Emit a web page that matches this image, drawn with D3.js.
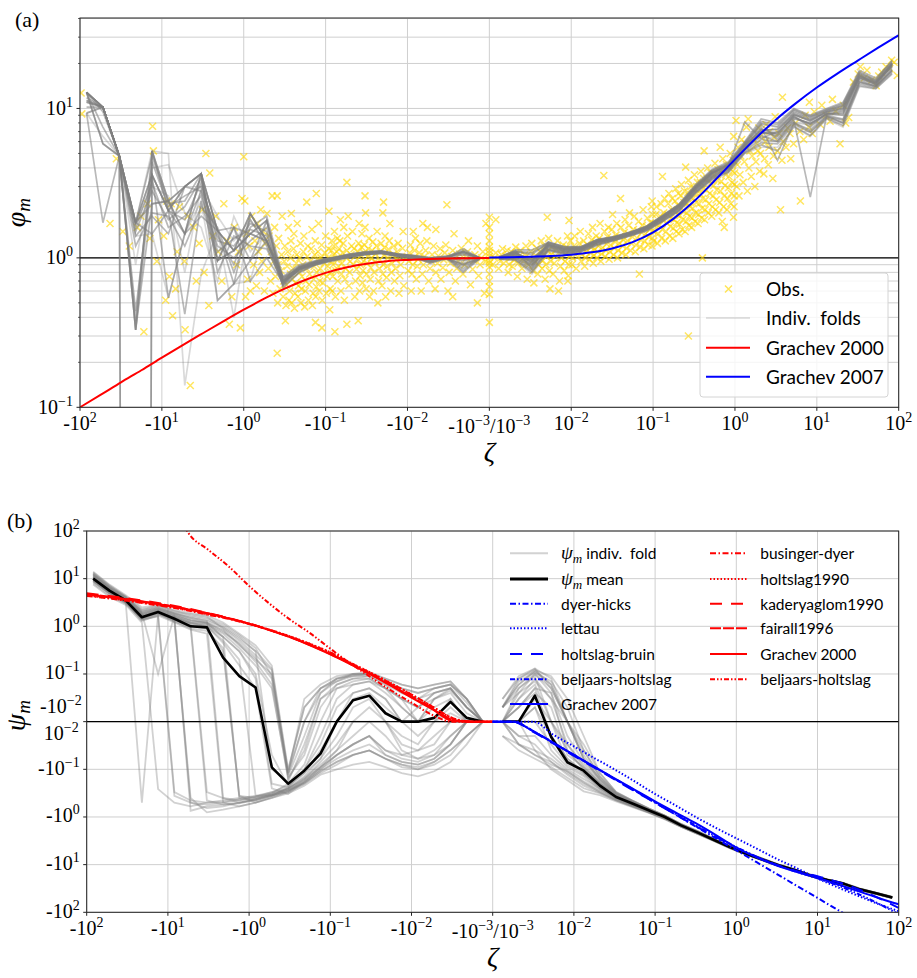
<!DOCTYPE html>
<html><head><meta charset="utf-8">
<script src="https://cdn.jsdelivr.net/npm/d3@7"></script>
<style>
body{margin:0;background:#fff;}
.tk{font-family:"Liberation Serif","DejaVu Serif",serif;font-size:20px;fill:#000;}
.lg{font-family:Lato,"DejaVu Sans",sans-serif;fill:#000;}
.mi{font-family:"Liberation Serif","DejaVu Serif",serif;font-style:italic;}
</style></head><body>
<svg id="chart" width="917" height="978" xmlns="http://www.w3.org/2000/svg"></svg>
<script>
// ---------------- DATA ----------------
const binsNeg = [-83.2,-52.5,-33.1,-20.9,-13.2,-8.32,-5.25,-3.31,-2.09,-1.32,-0.832,-0.525,-0.331,-0.209,-0.132,-0.0832,-0.0525,-0.0331,-0.0209,-0.0132,-0.00832,-0.00525,-0.00331,-0.00209,-0.00132];
const binsPos = [0.00132,0.00209,0.00331,0.00525,0.00832,0.0132,0.0209,0.0331,0.0525,0.0832,0.132,0.209,0.331,0.525,0.832,1.32,2.09,3.31,5.25,8.32,13.2,20.9,33.1,52.5,83.2];

// panel (a): phi_m of individual folds
const foldsNegA = [
 [12.8,10.2,4.8,0.33,5.2,2.4,3.0,3.66,1.52,1.12,1.98,1.3,0.72,0.86,0.93,0.98,1.04,1.08,1.1,1.05,1.02,0.98,1.0,1.12,1.0],
 [9.3,10.2,4.8,0,5.2,2.07,1.45,3.66,0.96,1.6,1.45,1.78,0.66,0.84,0.9,0.97,1.02,1.06,1.08,1.04,1.0,0.95,1.0,0.82,0.99],
 [12.8,5.8,4.8,1.72,3.6,0.54,1.45,3.66,0.52,0.67,1.98,1.3,0.7,0.88,0.95,1.0,1.05,1.1,1.12,1.06,1.03,1.0,1.02,1.08,1.0],
 [11.3,10.2,4.8,0.33,2.3,2.4,3.0,2.8,1.52,0.67,0.96,1.78,0.63,0.8,0.9,0.95,1.0,1.05,1.07,1.02,0.99,0.93,0.98,0.88,0.98],
 [9.3,1.72,4.8,1.72,1.45,2.07,0.42,2.4,0.96,1.12,1.45,1.3,0.75,0.9,0.96,1.0,1.06,1.09,1.1,1.06,1.04,1.0,1.03,1.1,1.01],
 [12.8,10.2,4.8,0,5.2,2.4,1.45,1.9,1.52,1.6,0.7,1.0,0.68,0.86,0.92,0.99,1.03,1.07,1.1,1.05,1.01,0.97,1.0,0.85,0.99],
 [11,10.2,4.8,1.4,1.9,1.45,3.0,3.66,1.52,1.12,1.98,1.3,0.74,0.85,0.93,0.98,1.04,1.08,1.09,1.05,1.02,0.92,1.01,1.15,1.0],
 [12.8,5.8,4.8,0.44,3.6,2.07,3.0,3.66,0.96,1.12,1.45,1.78,0.7,0.82,0.91,0.97,1.02,1.06,1.08,1.03,1.0,0.96,0.99,0.8,0.98],
 [9.3,10.2,4.8,1.72,5.2,5.0,0.14,0.78,1.52,0.4,1.98,1.3,0.72,0.87,0.94,0.99,1.05,1.09,1.11,1.07,1.03,0.99,1.02,1.05,1.0],
 [12.8,10.2,4.8,1.72,2.3,2.4,1.45,2.8,0.96,1.6,0.96,1.3,0.65,0.8,0.9,0.96,1.01,1.05,1.07,1.03,1.0,0.94,0.99,0.9,0.99],
 [11.3,10.2,4.8,0.33,3.6,2.07,3.0,3.66,1.52,1.12,1.45,1.3,0.68,0.84,0.92,0.98,1.03,1.07,1.09,1.04,1.01,0.97,1.0,1.1,1.0],
 [12.8,10.2,4.8,1.4,1.45,0.54,1.45,2.4,0.52,0.67,0.7,1.78,0.7,0.86,0.94,1.0,1.04,1.08,1.1,1.05,1.02,0.98,1.01,0.95,1.0],
 [11,10.2,4.8,1.72,3.6,2.07,1.8,3.2,1.3,1.2,1.7,1.5,0.68,0.85,0.93,0.98,1.03,1.07,1.09,1.04,1.01,0.97,1.0,1.05,1.0],
 [12.8,9.5,4.8,1.5,2.8,1.8,2.2,3.4,1.1,1.35,1.55,1.4,0.7,0.83,0.92,0.97,1.02,1.06,1.08,1.03,1.0,0.96,0.99,0.92,0.99],
 [10.2,10.2,4.8,0.38,4.4,2.2,2.6,3.0,1.4,0.9,1.8,1.2,0.66,0.86,0.94,0.99,1.04,1.08,1.1,1.05,1.02,0.98,1.01,1.08,1.0],
 [12.8,7.5,4.8,1.6,3.2,1.6,1.9,2.6,1.2,1.0,1.3,1.6,0.72,0.87,0.93,0.98,1.03,1.07,1.09,1.05,1.02,0.99,1.0,0.97,1.0],
 [11.8,10.2,4.8,1.72,4.8,2.3,2.4,3.66,0.8,1.4,1.2,1.15,0.69,0.84,0.91,0.97,1.02,1.06,1.08,1.04,1.01,0.95,0.99,0.9,0.99],
 [12.8,10.2,4.8,1.2,2.0,1.9,1.2,2.2,1.6,0.8,1.6,1.9,0.74,0.88,0.95,1.0,1.05,1.09,1.11,1.06,1.03,1.0,1.02,1.1,1.0],
 [9.3,6.5,4.8,0.9,4.0,4.2,2.0,1.6,0.7,1.9,1.1,1.45,0.7,0.85,0.93,0.98,1.03,1.07,1.09,1.04,1.01,0.97,1.0,1.0,1.0],
 [12.8,10.2,4.8,1.72,3.0,2.6,0.8,3.0,1.9,1.3,1.8,1.25,0.66,0.82,0.91,0.97,1.02,1.06,1.08,1.03,1.0,0.96,0.99,0.96,0.99]
];
const foldsPosA = [
 [1.0,1.05,0.95,1.2,1.12,1.15,1.28,1.35,1.45,1.58,1.85,2.2,2.9,3.6,4.0,5.5,7.0,6.5,8.7,7.9,9.2,9.7,16,14.6,20],
 [1.0,1.12,0.85,1.28,1.18,1.18,1.32,1.38,1.48,1.62,1.92,2.28,3.05,3.85,4.3,5.9,8.2,7.8,9.8,8.8,9.8,10.8,17.5,15.5,21],
 [0.98,0.97,0.8,1.12,1.07,1.1,1.22,1.31,1.41,1.52,1.76,2.07,2.72,3.35,3.75,5.05,5.7,5.2,7.6,6.6,8.6,7.7,14.2,13.6,17.2],
 [1.0,1.08,0.92,1.22,1.14,1.16,1.3,1.36,1.46,1.6,1.88,2.24,2.95,3.7,4.15,8.1,6.3,7.0,9.2,8.2,9.5,10.2,16.5,15,19],
 [1.02,1.1,1.08,1.25,1.16,1.17,1.31,1.37,1.47,1.61,1.9,2.25,3.0,3.75,4.2,5.7,7.5,4.5,8.0,7.2,8.9,8.0,15,14,18],
 [0.99,1.0,0.88,1.15,1.09,1.12,1.25,1.33,1.43,1.55,1.8,2.12,2.8,3.45,3.9,5.3,6.6,6.0,8.3,2.55,9.0,8.5,15.5,14.2,18.5],
 [1.01,1.13,1.13,1.27,1.19,1.19,1.33,1.39,1.49,1.63,1.93,2.3,3.1,3.9,4.4,6.0,8.5,8.0,10,9.0,10,11,18,16,20.5],
 [1.0,1.03,0.9,1.18,1.1,1.14,1.27,1.34,1.44,1.57,1.83,2.16,2.85,3.5,3.95,5.4,6.9,6.8,8.9,7.5,9.3,9.0,16.2,14.8,19.5],
 [0.98,0.96,0.78,1.1,1.05,1.1,1.2,1.3,1.4,1.5,1.75,2.05,2.7,3.3,3.7,5.0,5.5,5.5,7.5,6.5,8.5,7.5,14,13.5,17],
 [1.0,1.07,0.97,1.21,1.13,1.15,1.29,1.35,1.45,1.59,1.86,2.21,2.92,3.65,4.1,5.6,7.2,7.2,9.4,8.5,9.6,10.5,17,15.2,20],
 [1.01,1.09,0.93,1.23,1.15,1.16,1.3,1.36,1.46,1.6,1.87,2.22,2.97,3.72,4.2,5.75,7.8,6.2,8.5,8.0,9.1,9.4,16.8,14.4,19.8],
 [0.99,1.02,0.87,1.17,1.1,1.13,1.26,1.33,1.43,1.56,1.82,2.14,2.82,3.5,3.9,5.3,6.4,6.4,8.1,7.7,8.9,8.2,15.2,14.0,18.2],
 [1.0,1.06,0.98,1.24,1.15,1.17,1.3,1.37,1.47,1.6,1.89,2.23,2.96,3.72,4.18,5.6,7.3,6.7,9.0,8.3,9.4,10.0,16.3,14.9,19.6],
 [0.99,1.04,0.9,1.19,1.11,1.14,1.27,1.34,1.44,1.57,1.84,2.17,2.87,3.55,3.98,5.45,6.8,6.9,8.8,7.8,9.2,9.2,16.0,14.6,19.2],
 [1.01,1.1,1.05,1.26,1.17,1.18,1.32,1.38,1.48,1.62,1.91,2.27,3.02,3.8,4.25,5.8,7.9,7.5,9.6,8.7,9.7,10.4,17.2,15.3,20.2],
 [1.0,1.0,0.84,1.14,1.08,1.12,1.24,1.32,1.42,1.54,1.79,2.1,2.77,3.42,3.85,5.2,6.2,6.0,8.0,7.0,8.8,8.4,15.0,14.1,18.0],
 [1.0,1.08,0.96,1.22,1.14,1.16,1.29,1.36,1.46,1.59,1.87,2.22,2.94,3.68,4.12,5.65,7.1,7.3,9.1,8.4,9.5,9.9,16.6,15.0,19.9],
 [0.98,0.98,0.82,1.13,1.06,1.11,1.23,1.31,1.41,1.53,1.77,2.08,2.74,3.38,3.8,5.1,5.9,5.8,7.8,6.9,8.7,8.0,14.6,13.8,17.6],
 [1.01,1.11,1.1,1.27,1.18,1.18,1.32,1.38,1.49,1.62,1.92,2.28,3.05,3.85,4.3,5.95,8.0,7.6,9.9,8.9,9.9,10.6,17.6,15.6,20.8],
 [1.0,1.05,0.94,1.2,1.12,1.15,1.28,1.35,1.45,1.58,1.85,2.19,2.9,3.62,4.05,5.5,6.9,6.6,8.6,7.9,9.1,9.6,15.8,14.5,19.4]
];

// panel (a): observations [zeta, phi_m]
const obs = [
 [-97,12.7],[-95,9.2],[-36,4.6],[-43,1.7],[-16.6,0.32],[-4.5,0.14],[-5.2,0.33],[-7.4,0.41],[-9.0,0.52],[-2.67,0.48],[-1.5,0.36],[-1.1,0.34],[-13,7.6],[-2.6,3.7],[-2.9,5.0],[-12.7,5.2],[-1.0,4.75],[-8.7,2.4],[-7.7,2.3],[-6.1,2.2],[-1.75,2.3],[-20,1.6],[-25,1.2],[-11,1.8],[-9.5,1.4],[-6.5,1.1],[-5.3,0.95],[-4.1,1.6],[-3.5,1.25],[-3.05,0.8],[-2.2,1.9],[-2.05,1.1],[-1.85,0.7],[-1.6,1.3],[-1.3,1.6],[-1.22,0.9],[-1.05,2.5],[-15,2.3],[-18,1.9],[-30,1.5],[-11.5,0.95],[-8.1,0.75],[-4.8,1.9],[-3.2,2.1],[-2.4,1.4],[-1.4,0.55],[-1.16,1.1],[-3.8,0.7],[-6.8,0.62],[-14,1.35],
 [-0.95,0.55],[-0.93,1.45],[-0.97,2.4],[-0.9,0.72],[-0.86,1.2],[-0.83,0.6],[-0.8,1.9],[-0.76,0.9],[-0.73,1.3],[-0.7,0.65],[-0.68,1.7],[-0.66,1.1],[-0.64,0.8],[-0.62,2.1],[-0.6,0.95],[-0.58,1.5],[-0.56,0.6],[-0.54,1.25],[-0.52,1.98],[-0.5,0.85],[-0.49,1.4],[-0.47,0.7],[-0.46,1.1],[-0.45,2.6],[-0.44,0.58],[-0.43,0.95],[-0.42,1.6],[-0.41,0.75],[-0.4,1.2],[-0.39,2.6],[-0.385,0.5],[-0.38,0.9],[-0.375,1.35],[-0.39,0.23],[-0.36,0.62],[-0.35,0.82],[-0.345,1.05],[-0.34,1.9],[-0.33,0.55],[-0.325,0.7],[-0.32,0.95],[-0.315,1.2],[-0.31,0.38],[-0.305,0.48],[-0.3,0.66],[-0.295,0.88],[-0.29,1.1],[-0.285,1.6],[-0.28,0.52],[-0.275,0.6],[-0.27,0.78],[-0.268,1.0],[-0.265,1.3],[-0.262,1.98],[-0.26,0.5],[-0.255,0.72],[-0.25,0.85],[-0.247,1.15],[-0.244,1.45],[-0.24,0.46],[-0.236,0.58],[-0.232,0.68],[-0.228,0.92],[-0.225,1.05],[-0.222,1.7],[-0.218,0.55],[-0.214,0.65],[-0.21,0.8],[-0.206,1.0],[-0.203,1.25],[-0.2,0.5],[-0.197,0.62],[-0.194,0.75],[-0.19,0.9],[-0.187,1.1],[-0.184,1.4],[-0.17,2.36],[-0.18,0.47],[-0.177,0.6],[-0.174,0.7],[-0.171,0.85],[-0.168,1.02],[-0.165,1.2],[-0.162,0.52],[-0.159,0.66],[-0.156,0.78],[-0.153,0.95],[-0.15,1.15],[-0.147,1.55],[-0.145,0.48],[-0.142,0.58],[-0.14,0.72],[-0.138,0.88],[-0.136,1.05],[-0.134,1.3],[-0.132,0.55],[-0.13,0.64],[-0.128,0.8],[-0.126,0.97],[-0.124,1.1],[-0.122,1.7],[-0.133,0.37],[-0.12,0.6],[-0.118,0.7],[-0.116,0.85],[-0.114,1.0],[-0.112,1.22],[-0.13,2.7],[-0.11,0.52],[-0.108,0.68],[-0.106,0.78],[-0.104,0.92],[-0.102,1.08],[-0.1,1.4],[-0.111,0.34],[-0.098,0.58],[-0.096,0.75],[-0.094,0.88],[-0.093,1.0],[-0.092,1.15],[-0.091,2.05],
 [-0.089,0.45],[-0.088,0.62],[-0.087,0.8],[-0.086,0.95],[-0.085,1.12],[-0.084,1.3],[-0.083,0.6],[-0.082,0.75],[-0.081,0.9],[-0.08,1.05],[-0.079,1.2],[-0.078,1.5],[-0.077,0.32],[-0.076,0.55],[-0.075,0.82],[-0.074,0.98],[-0.073,1.1],[-0.072,1.35],[-0.071,0.7],[-0.07,0.88],[-0.069,1.0],[-0.068,1.15],[-0.067,1.3],[-0.066,1.8],[-0.065,0.6],[-0.064,0.78],[-0.063,0.92],[-0.062,1.08],[-0.061,1.25],[-0.06,1.6],[-0.059,0.52],[-0.058,0.72],[-0.057,0.85],[-0.056,1.0],[-0.055,1.12],[-0.054,1.4],[-0.053,1.9],[-0.052,0.65],[-0.051,0.8],[-0.05,0.95],[-0.049,1.05],[-0.048,1.2],[-0.047,1.5],[-0.055,0.36],[-0.055,3.2],[-0.046,0.9],[-0.045,1.15],[-0.044,0.55],[-0.043,0.7],[-0.042,0.84],[-0.041,0.98],[-0.04,1.1],[-0.0395,1.25],[-0.039,1.7],[-0.0385,0.6],[-0.038,0.76],[-0.0375,0.9],[-0.037,1.04],[-0.0365,1.18],[-0.036,1.45],[-0.04,0.38],[-0.0355,0.68],[-0.035,0.82],[-0.0345,0.95],[-0.034,1.08],[-0.0335,1.22],[-0.033,1.6],[-0.0325,2.0],[-0.032,0.62],[-0.0315,0.78],[-0.031,0.92],[-0.0305,1.02],[-0.03,1.15],[-0.0295,1.35],[-0.033,2.6],[-0.029,0.55],[-0.0285,0.72],[-0.028,0.86],[-0.0275,1.0],[-0.027,1.12],[-0.0265,1.28],[-0.026,0.6],[-0.0255,0.8],[-0.025,0.94],[-0.0245,1.06],[-0.024,1.2],[-0.0235,1.5],[-0.023,0.5],[-0.0225,0.7],[-0.022,0.85],[-0.0218,0.97],[-0.0215,1.1],[-0.021,1.25],[-0.0205,0.65],[-0.02,0.78],[-0.0197,0.9],[-0.0194,1.04],[-0.0191,1.17],[-0.0188,1.4],[-0.0196,2.36],[-0.02,2.0],[-0.0185,0.55],[-0.018,0.74],[-0.0177,0.88],[-0.0174,1.0],[-0.017,1.14],[-0.0167,1.3],[-0.0164,1.7],[-0.016,0.6],[-0.0157,0.8],[-0.0154,0.92],[-0.015,1.05],[-0.0147,1.2],[-0.0144,0.7],[-0.014,0.85],[-0.0137,0.98],[-0.0134,1.1],[-0.013,1.25],[-0.0127,0.58],[-0.0124,0.76],[-0.0121,0.9],[-0.0118,1.02],[-0.0115,1.16],[-0.0113,1.5],[-0.0111,0.65],
 [-0.0098,0.82],[-0.0096,0.95],[-0.0094,1.08],[-0.0092,1.22],[-0.009,0.6],[-0.0088,0.78],[-0.0086,0.9],[-0.0084,1.0],[-0.0082,1.12],[-0.008,1.35],[-0.0078,0.72],[-0.0076,0.88],[-0.0074,0.98],[-0.0072,1.08],[-0.007,1.25],[-0.0068,0.6],[-0.0066,0.78],[-0.0064,0.9],[-0.0062,1.02],[-0.006,1.12],[-0.0058,1.3],[-0.0057,1.6],[-0.0055,0.7],[-0.0053,0.85],[-0.0051,0.95],[-0.005,1.05],[-0.0048,1.2],[-0.0046,0.62],[-0.0045,0.8],[-0.0043,0.92],[-0.0042,1.03],[-0.004,1.15],[-0.0039,0.72],[-0.0037,0.86],[-0.0036,0.97],[-0.0035,1.08],[-0.0034,1.22],[-0.0033,2.27],[-0.0032,0.6],[-0.0031,0.8],[-0.003,0.92],[-0.0029,1.02],[-0.0028,1.12],[-0.0027,1.45],[-0.0026,0.7],[-0.0025,0.85],[-0.0024,0.95],[-0.0023,1.06],[-0.0022,1.16],[-0.0021,0.78],[-0.002,0.9],[-0.0019,1.0],[-0.00185,1.1],[-0.0018,1.3],[-0.0017,0.66],[-0.0016,0.84],[-0.00155,0.96],[-0.0015,1.05],[-0.0014,1.2],[-0.00135,0.76],[-0.0013,0.9],[-0.00125,1.0],[-0.0012,1.1],[-0.00115,0.58],[-0.0011,0.95],[-0.0011,1.7],[-0.0014,0.5],[-0.0028,0.55],[-0.0045,1.55],[-0.0065,1.7],[-0.0085,1.5],
 [0.001,1.87],[0.001,1.6],[0.001,1.45],[0.001,1.3],[0.001,1.18],[0.001,1.07],[0.001,0.96],[0.001,0.87],[0.001,0.78],[0.001,0.7],[0.001,0.64],[0.001,0.57],[0.001,0.37],[0.001,1.02],[0.001,0.92],[0.001,1.12],
 [0.0011,0.9],[0.00115,1.0],[0.0012,1.08],[0.0012,1.8],[0.0013,0.85],[0.00135,0.95],[0.0014,1.05],[0.00145,1.15],[0.0015,0.92],[0.0016,1.02],[0.00165,1.12],[0.0017,0.8],[0.00175,0.9],[0.0018,1.0],[0.00185,1.1],[0.0019,0.88],[0.002,0.97],[0.00205,1.06],[0.0021,1.18],[0.0022,0.75],[0.00225,0.92],[0.0023,1.02],[0.0024,1.12],[0.0025,0.85],[0.0026,0.95],[0.0027,1.05],[0.0028,1.2],[0.0029,0.72],[0.003,0.9],[0.0031,1.0],[0.0032,1.1],[0.0033,1.25],[0.0034,0.82],[0.0035,0.68],[0.0036,0.94],[0.0037,1.04],[0.0038,1.16],[0.0039,0.78],[0.004,0.9],[0.0041,1.0],[0.0042,1.1],[0.0043,1.3],[0.0044,0.85],[0.0045,0.96],[0.0046,1.06],[0.0047,1.2],[0.0048,0.72],[0.0049,0.9],[0.005,1.02],[0.0051,1.87],[0.0052,1.12],[0.0053,1.35],[0.0054,0.82],[0.0055,0.62],[0.0056,0.95],[0.0057,1.05],[0.0058,1.18],[0.006,0.78],[0.0062,0.92],[0.0064,1.03],[0.0066,1.14],[0.0068,1.3],[0.007,0.6],[0.0072,0.7],[0.0074,0.88],[0.0076,1.0],[0.0078,1.1],[0.008,1.22],[0.0082,0.82],[0.0084,0.95],[0.0086,1.06],[0.0088,1.18],[0.009,1.4],[0.0091,0.7],[0.0092,0.76],[0.0094,0.9],[0.0096,1.02],[0.0097,1.14],[0.0098,1.3],[0.0094,1.78],
 [0.0102,0.9],[0.0104,1.0],[0.0106,1.1],[0.0108,1.2],[0.011,1.4],[0.0115,0.85],[0.012,1.02],[0.0123,1.12],[0.0126,1.25],[0.0129,1.5],[0.0132,0.95],[0.0135,1.05],[0.0138,1.15],[0.0142,1.3],[0.0146,0.88],[0.015,1.0],[0.0154,1.1],[0.0158,1.22],[0.0162,1.45],[0.0166,0.98],[0.017,1.08],[0.0174,1.18],[0.0178,1.32],[0.0182,1.6],[0.0186,0.92],[0.019,1.04],[0.0194,1.14],[0.0198,1.26],[0.0202,1.4],[0.0206,1.0],[0.021,1.1],[0.0215,1.2],[0.022,1.35],[0.0225,1.7],[0.023,0.95],[0.0235,1.06],[0.024,1.17],[0.0245,1.3],[0.025,3.56],[0.0255,1.5],[0.026,1.02],[0.0266,1.12],[0.0272,1.24],[0.0278,1.38],[0.0284,1.6],[0.029,0.98],[0.0296,1.1],[0.0302,1.22],[0.0308,1.35],[0.0314,1.55],[0.032,1.95],[0.0328,1.05],[0.0336,1.16],[0.0344,1.28],[0.0352,1.42],[0.036,1.7],[0.0368,1.0],[0.0376,1.12],[0.0384,1.25],[0.0392,1.38],[0.04,2.5],[0.0405,1.6],[0.0415,1.08],[0.0425,1.2],[0.0435,1.32],[0.0445,1.48],[0.0455,1.8],[0.0465,1.05],[0.0475,1.16],[0.0485,1.3],[0.0495,1.45],[0.0505,1.65],[0.0515,2.0],[0.053,1.12],[0.0545,1.25],[0.056,1.38],[0.0575,1.55],[0.059,1.9],[0.0605,1.1],[0.062,1.22],[0.0635,1.36],[0.065,1.52],[0.0665,1.75],[0.068,0.78],[0.0695,1.18],[0.071,1.32],[0.0725,1.48],[0.074,1.65],[0.0755,2.1],[0.077,1.15],[0.079,1.3],[0.081,1.45],[0.083,1.62],[0.085,1.85],[0.087,1.22],[0.089,1.38],[0.091,1.55],[0.093,1.72],[0.095,2.2],[0.097,1.2],[0.098,1.36],[0.099,1.52],[0.0995,1.7],[0.0985,1.95],[0.0975,2.4],
 [0.102,1.3],[0.104,1.5],[0.106,1.7],[0.108,1.95],[0.11,2.2],[0.113,1.25],[0.116,1.45],[0.119,1.65],[0.122,1.9],[0.125,2.3],[0.127,1.35],[0.129,1.55],[0.13,3.5],[0.132,1.78],[0.135,2.0],[0.138,2.5],[0.141,1.3],[0.144,1.5],[0.147,1.72],[0.15,1.95],[0.153,2.3],[0.156,2.7],[0.159,1.4],[0.162,1.62],[0.165,1.85],[0.168,2.1],[0.171,2.5],[0.174,1.35],[0.177,1.58],[0.18,1.8],[0.183,2.05],[0.186,2.4],[0.189,2.9],[0.192,1.5],[0.195,1.72],[0.198,1.95],[0.201,2.25],[0.204,2.7],[0.207,1.45],[0.21,1.68],[0.213,1.92],[0.216,2.2],[0.219,2.6],[0.222,3.1],[0.226,1.55],[0.23,1.8],[0.234,2.05],[0.238,2.35],[0.242,2.8],[0.246,1.5],[0.25,4.05],[0.254,1.75],[0.258,2.0],[0.262,2.3],[0.266,2.75],[0.27,0.3],[0.27,3.3],[0.274,1.65],[0.278,1.9],[0.282,2.2],[0.286,2.55],[0.29,3.0],[0.295,1.6],[0.3,1.85],[0.305,2.15],[0.31,2.5],[0.315,2.95],[0.32,3.6],[0.325,1.75],[0.33,2.0],[0.336,2.35],[0.342,2.7],[0.348,3.2],[0.354,1.7],[0.36,1.95],[0.366,2.3],[0.372,2.7],[0.378,3.2],[0.384,3.8],[0.39,1.85],[0.396,2.15],[0.4,1.0],[0.402,2.5],[0.408,2.9],[0.414,3.4],[0.42,5.2],[0.425,1.8],[0.432,2.1],[0.44,2.45],[0.448,2.85],[0.456,3.4],[0.464,4.0],[0.472,2.0],[0.48,2.3],[0.49,2.7],[0.5,3.15],[0.51,3.7],[0.52,1.9],[0.53,2.2],[0.54,2.6],[0.55,3.05],[0.56,3.6],[0.57,4.3],[0.58,2.1],[0.59,2.45],[0.6,2.85],[0.61,3.3],[0.62,3.9],[0.635,2.0],[0.65,2.35],[0.665,2.8],[0.68,3.25],[0.695,3.85],[0.71,4.6],[0.725,2.2],[0.74,2.6],[0.755,3.05],[0.77,3.6],[0.785,4.2],[0.8,2.1],[0.815,2.5],[0.83,2.95],[0.845,3.5],[0.86,4.15],[0.875,5.0],[0.89,2.3],[0.905,2.7],[0.92,3.2],[0.935,3.8],[0.95,4.5],[0.965,6.5],[0.66,5.5],[0.975,2.2],[0.98,2.6],[0.985,3.1],[0.99,3.7],[0.995,4.4],[0.96,1.87],[0.74,1.6],[0.7,1.75],
 [1.03,8.3],[1.05,3.0],[1.07,4.2],[1.09,5.5],[1.12,2.6],[1.15,3.6],[1.18,4.8],[1.21,6.2],[1.26,3.2],[1.3,4.4],[1.34,5.8],[1.38,7.5],[1.42,2.8],[1.45,8.5],[1.48,4.0],[1.52,5.2],[1.58,3.5],[1.62,4.8],[1.66,6.3],[1.75,3.0],[1.8,4.4],[1.85,5.8],[1.9,5.2],[1.95,7.4],[2.0,3.8],[2.05,5.0],[2.1,6.6],[2.25,3.65],[2.3,4.6],[2.35,6.0],[2.4,7.8],[2.55,4.2],[2.6,5.5],[2.65,7.0],[2.9,3.4],[2.95,4.8],[3.0,6.4],[3.1,8.8],[3.3,5.2],[3.45,6.8],[3.6,2.1],[3.8,11.9],[3.75,4.5],[3.9,6.0],[4.2,5.5],[4.4,7.4],[4.7,6.8],[4.8,4.6],[5.2,5.8],[5.5,8.0],[6.3,2.4],[6.2,7.0],[6.9,6.2],[7.2,9.0],[8.1,11],[8.0,7.5],[8.8,6.8],[9.3,9.5],
 [11,7.8],[11.5,10.5],[13,9.0],[14.5,8.2],[15.5,11.5],[17,9.6],[19.2,5.8],[21,10.5],[22.5,8.0],[24.5,8.7],[28,15],[32,17],[34,19],[38,16],[41,18],[47,15.5],[53,14.2],[57,16.5],[62,17.5],[70,19],[78,18.5],[82,21],[88,20.4],[96,16.6]
];

// model curves sampled at half decades
const zNegCurve = [-100,-56.2,-31.6,-17.8,-10,-5.62,-3.16,-1.78,-1,-0.562,-0.316,-0.178,-0.1,-0.0562,-0.0316,-0.0178,-0.01,-0.00562,-0.00316,-0.00178,-0.001];
const zPosCurve = [0.001,0.00178,0.00316,0.00562,0.01,0.0178,0.0316,0.0562,0.1,0.178,0.316,0.562,1,1.78,3.16,5.62,10,17.8,31.6,56.2,100];
const grachev2000A = [0.1,0.121,0.147,0.177,0.215,0.26,0.313,0.376,0.45,0.533,0.622,0.711,0.794,0.862,0.913,0.95,0.969,0.982,0.99,0.994,0.997];
const grachev2007A = [1.005,1.009,1.016,1.028,1.05,1.089,1.156,1.274,1.48,1.83,2.39,3.28,4.56,6.28,8.41,10.9,13.8,17.1,20.9,25.5,30.9];

// panel (b): psi_m
const meanNegB = [10,5.6,3.5,1.55,2.0,1.44,1.0,0.95,0.22,0.09,0.052,-0.091,-0.2,-0.107,-0.047,0,0.028,0.035,0.015,0,0,0.012,0.026,0.012,0];
const meanPosB = [0,0,0.035,-0.021,-0.071,-0.107,-0.22,-0.38,-0.52,-0.72,-1.0,-1.5,-2.1,-3.0,-4.3,-5.9,-7.8,-10.3,-13,-17,-21,-25,-33,-40,-49];
const foldsNegB = [
 [12,6.5,4.0,2.2,2.6,2.0,1.8,1.6,0.9,0.5,0.25,0.12,-0.15,-0.05,0.02,0.06,0.08,0.09,0.06,0.03,0.02,0.04,0.05,0.02,0],
 [9,5.0,3.2,-0.5,1.8,1.5,1.2,1.1,0.6,0.3,0.1,-0.05,-0.22,-0.12,-0.06,-0.02,0.02,0.03,0.01,-0.02,-0.03,-0.01,0.015,0.01,0],
 [14,7.5,4.5,2.5,2.8,2.2,1.9,1.7,1.2,0.7,0.4,0.15,-0.1,0.02,0.05,0.07,0.1,0.1,0.07,0.05,0.04,0.05,0.06,0.03,0],
 [8,4.5,3.0,1.4,1.6,-0.36,-0.5,-0.55,-0.5,-0.45,-0.4,-0.35,-0.3,-0.2,-0.12,-0.08,-0.05,-0.04,-0.06,-0.08,-0.1,-0.07,-0.04,-0.02,0],
 [11,6.0,3.8,1.8,2.2,1.7,-0.74,-0.6,-0.55,-0.5,-0.42,-0.33,-0.25,-0.15,-0.08,-0.04,-0.02,0.01,-0.01,-0.04,-0.06,-0.05,-0.02,-0.01,0],
 [10,5.5,3.4,1.6,2.0,1.5,1.1,-0.3,-0.4,-0.45,-0.38,-0.3,-0.22,-0.1,-0.03,0.02,0.04,0.05,0.03,0.01,0.02,0.03,0.04,0.015,0],
 [13,7,4.2,2.0,2.4,1.9,1.5,1.3,-0.4,-0.5,-0.45,-0.35,-0.28,-0.18,-0.1,-0.05,-0.03,-0.02,-0.04,-0.05,-0.04,-0.03,-0.01,0,0],
 [9.5,5.2,3.3,1.5,1.9,1.3,0.9,0.8,0.35,-0.36,-0.4,-0.32,-0.2,-0.08,0.01,0.05,0.07,0.08,0.05,0.03,0.01,0.02,0.03,0.01,0],
 [11.5,6.2,3.6,1.7,2.1,1.6,1.2,1.0,0.5,0.2,-0.36,-0.35,-0.26,-0.14,-0.06,-0.01,0.03,0.04,0.02,-0.01,-0.02,0,0.02,0.01,0],
 [10.5,5.8,3.6,1.9,2.3,1.8,1.4,1.2,0.8,0.4,0.2,0.1,-0.12,0.03,0.06,0.09,0.1,0.1,0.08,0.06,0.05,0.06,0.07,0.03,0],
 [8.5,4.8,3.1,1.3,1.7,1.2,0.85,0.7,-0.5,-0.6,-0.5,-0.4,-0.32,-0.22,-0.13,-0.1,-0.08,-0.07,-0.09,-0.12,-0.14,-0.11,-0.07,-0.03,0],
 [12.5,6.8,4.1,2.1,2.5,1.9,1.6,1.4,1.0,0.6,0.3,-0.1,-0.18,-0.03,0.03,0.05,0.06,0.07,0.04,0.02,0.01,0.03,0.045,0.02,0],
 [7.5,4.2,2.8,1.2,-0.26,-0.5,-0.6,-0.5,-0.45,-0.4,-0.36,-0.3,-0.25,-0.17,-0.09,-0.05,-0.03,-0.02,-0.05,-0.07,-0.08,-0.06,-0.03,-0.01,0],
 [10,5.4,3.5,1.6,2.0,1.4,1.0,0.9,0.3,-0.36,-0.5,-0.4,-0.3,-0.16,-0.07,-0.03,0,0.02,0,-0.03,-0.04,-0.02,0.01,0.005,0],
 [11,6.0,3.7,1.7,2.1,1.6,1.2,1.1,0.7,0.35,0.15,0.05,-0.14,-0.02,0.04,0.08,0.09,0.1,0.07,0.04,0.03,0.05,0.06,0.025,0],
 [9,5.0,3.2,1.4,1.8,1.3,-0.4,-0.8,-0.7,-0.6,-0.5,-0.38,-0.28,-0.2,-0.11,-0.07,-0.05,-0.04,-0.06,-0.09,-0.1,-0.08,-0.05,-0.02,0],
 [12,6.3,3.9,1.9,0.1,1.7,1.3,1.2,0.6,0.3,0.08,-0.2,-0.24,-0.1,-0.02,0.03,0.06,0.07,0.05,0.02,0.01,0.03,0.05,0.02,0],
 [10,5.6,3.5,1.6,2.0,1.5,1.1,1.0,0.45,0.15,0.05,-0.25,-0.33,-0.18,-0.09,-0.04,-0.01,0,-0.02,-0.05,-0.06,-0.04,-0.02,-0.01,0],
 [11,6.1,3.7,1.8,2.2,1.65,1.3,1.15,0.75,0.45,0.22,0.08,-0.13,0.0,0.04,0.07,0.09,0.09,0.06,0.04,0.03,0.04,0.05,0.02,0],
 [9.8,5.3,3.3,1.5,1.9,1.35,-0.5,-0.65,-0.6,-0.5,-0.42,-0.34,-0.26,-0.16,-0.09,-0.05,-0.03,-0.02,-0.04,-0.06,-0.07,-0.05,-0.03,-0.01,0],
 [12.5,6.7,4.1,2.0,2.4,1.85,1.5,1.3,0.95,0.55,0.3,0.13,-0.11,0.02,0.05,0.08,0.095,0.1,0.07,0.05,0.04,0.05,0.06,0.03,0],
 [8.8,4.9,3.1,1.35,1.7,-0.3,-0.45,-0.5,-0.48,-0.42,-0.37,-0.32,-0.27,-0.19,-0.11,-0.07,-0.05,-0.04,-0.06,-0.08,-0.09,-0.07,-0.04,-0.02,0],
 [10.5,5.7,3.5,1.65,2.05,1.5,1.15,1.0,0.6,-0.4,-0.45,-0.36,-0.24,-0.12,-0.04,0.01,0.04,0.05,0.03,0.0,-0.01,0.01,0.03,0.01,0],
 [11.8,6.4,3.9,1.85,2.3,1.75,1.35,1.2,0.85,0.42,0.18,0.06,-0.16,-0.04,0.03,0.06,0.08,0.08,0.05,0.03,0.02,0.04,0.05,0.02,0],
 [9.2,5.1,3.3,1.45,1.85,1.25,0.95,-0.45,-0.55,-0.52,-0.44,-0.36,-0.29,-0.19,-0.1,-0.06,-0.04,-0.03,-0.05,-0.07,-0.08,-0.06,-0.03,-0.01,0],
 [13.5,7.2,4.3,2.3,2.7,2.1,1.7,1.5,1.1,0.65,0.35,0.09,-0.12,0.01,0.05,0.08,0.1,0.11,0.08,0.06,0.05,0.06,0.07,0.03,0]
];
const foldsPosB = [
 [0.02,0.06,0.12,0.06,0.01,-0.05,-0.15,-0.32,-0.47,-0.68,-0.95,-1.42,-2.0,-2.9,-4.1,-5.6,-7.5,-10,-12.6,-16.5,-20.5,-24.5,-32,-39,-48],
 [-0.02,-0.04,-0.06,-0.09,-0.15,-0.25,-0.32,-0.45,-0.6,-0.8,-1.1,-1.6,-2.25,-3.15,-4.5,-6.1,-8.1,-10.6,-13.5,-17.5,-21.5,-26,-34,-41,-50],
 [0.01,0.03,0.08,0.03,-0.03,-0.08,-0.2,-0.36,-0.5,-0.7,-0.98,-1.48,-2.05,-2.95,-4.2,-5.8,-7.7,-10.2,-12.8,-16.8,-20.8,-24.8,-32.5,-39.5,-48.5],
 [0,0.02,0.05,-0.02,-0.06,-0.12,-0.24,-0.4,-0.55,-0.75,-1.04,-1.55,-2.15,-3.05,-4.35,-6.0,-7.9,-10.4,-13.2,-17.2,-21.2,-25.5,-33.5,-40.5,-49.5],
 [0.03,0.08,0.13,0.05,0.0,-0.03,-0.12,-0.3,-0.45,-0.66,-0.93,-1.4,-1.95,-2.85,-4.05,-5.55,-7.4,-9.9,-12.5,-16.3,-20.3,-24.2,-31.5,-38.5,-47],
 [-0.01,-0.02,-0.03,-0.07,-0.12,-0.2,-0.29,-0.43,-0.58,-0.78,-1.07,-1.58,-2.2,-3.1,-4.45,-6.05,-8.0,-10.5,-13.4,-17.4,-21.4,-25.8,-33.8,-41,-50],
 [0.01,0.04,0.1,0.04,-0.02,-0.07,-0.18,-0.34,-0.49,-0.7,-0.97,-1.46,-2.05,-2.95,-4.25,-5.85,-7.7,-10.2,-12.9,-16.9,-20.9,-25,-32.8,-39.8,-48.8],
 [0,-0.01,0.02,-0.04,-0.09,-0.14,-0.26,-0.41,-0.56,-0.76,-1.05,-1.54,-2.15,-3.05,-4.35,-5.95,-7.9,-10.4,-13.1,-17.1,-21.1,-25.3,-33.2,-40.3,-49.3],
 [0.02,0.05,0.09,0.0,-0.04,-0.1,-0.21,-0.37,-0.52,-0.72,-1.0,-1.5,-2.1,-3.0,-4.3,-5.9,-7.8,-10.3,-13,-17,-21,-25,-33,-40,-49],
 [-0.01,-0.03,-0.05,-0.08,-0.11,-0.18,-0.27,-0.42,-0.57,-0.77,-1.06,-1.56,-2.17,-3.08,-4.4,-6.0,-7.95,-10.45,-13.3,-17.3,-21.3,-25.6,-33.6,-40.8,-49.8],
 [0.01,0.02,0.04,0.02,-0.05,-0.09,-0.19,-0.35,-0.5,-0.71,-0.99,-1.49,-2.08,-2.98,-4.28,-5.88,-7.75,-10.25,-12.95,-16.95,-20.95,-24.9,-32.9,-39.9,-48.9],
 [0.02,0.07,0.11,0.07,0.02,-0.04,-0.14,-0.31,-0.46,-0.67,-0.94,-1.43,-2.0,-2.9,-4.1,-5.65,-7.5,-10,-12.7,-16.6,-20.6,-24.6,-32.2,-39.2,-48.2],
 [0,0.01,-0.04,-0.1,-0.17,-0.29,-0.35,-0.47,-0.62,-0.82,-1.12,-1.62,-2.26,-3.18,-4.5,-6.15,-8.1,-10.7,-13.6,-17.6,-21.6,-26.2,-34.2,-41.5,-50.5],
 [0.01,0.03,0.06,0.01,-0.03,-0.09,-0.2,-0.36,-0.51,-0.71,-0.99,-1.48,-2.07,-2.97,-4.27,-5.87,-7.75,-10.25,-12.9,-16.9,-20.9,-24.9,-32.9,-39.9,-48.9],
 [0,-0.02,-0.02,-0.05,-0.1,-0.16,-0.25,-0.4,-0.55,-0.75,-1.03,-1.53,-2.13,-3.03,-4.33,-5.93,-7.85,-10.35,-13.1,-17.1,-21.1,-25.2,-33.2,-40.2,-49.2],
 [0.03,0.09,0.13,0.08,0.01,-0.06,-0.16,-0.33,-0.48,-0.69,-0.96,-1.45,-2.02,-2.92,-4.15,-5.75,-7.6,-10.1,-12.8,-16.7,-20.7,-24.7,-32.4,-39.4,-48.4],
 [-0.01,0,0.01,-0.03,-0.08,-0.13,-0.23,-0.39,-0.54,-0.74,-1.02,-1.52,-2.12,-3.02,-4.32,-5.92,-7.82,-10.32,-13.05,-17.05,-21.05,-25.1,-33.1,-40.1,-49.1],
 [0.02,0.04,0.07,0.03,-0.01,-0.06,-0.17,-0.34,-0.49,-0.7,-0.98,-1.47,-2.06,-2.96,-4.22,-5.82,-7.72,-10.22,-12.92,-16.92,-20.92,-24.92,-32.8,-39.7,-48.7],
 [0.01,0.05,0.1,0.05,0.0,-0.06,-0.16,-0.33,-0.48,-0.69,-0.96,-1.45,-2.03,-2.93,-4.2,-5.8,-7.65,-10.15,-12.85,-16.85,-20.85,-24.85,-32.6,-39.6,-48.6],
 [-0.01,-0.03,-0.04,-0.06,-0.11,-0.19,-0.3,-0.44,-0.59,-0.79,-1.08,-1.59,-2.22,-3.12,-4.45,-6.08,-8.02,-10.55,-13.45,-17.45,-21.45,-25.9,-33.9,-41.2,-50.2],
 [0.02,0.06,0.11,0.06,0.0,-0.04,-0.14,-0.31,-0.46,-0.67,-0.94,-1.43,-2.0,-2.9,-4.12,-5.7,-7.55,-10.05,-12.7,-16.6,-20.6,-24.6,-32.3,-39.3,-48.3],
 [0,0.01,0.03,-0.01,-0.07,-0.12,-0.24,-0.4,-0.55,-0.75,-1.04,-1.54,-2.14,-3.04,-4.34,-5.95,-7.88,-10.38,-13.15,-17.15,-21.15,-25.3,-33.3,-40.4,-49.4],
 [0.01,0.02,0.05,0.04,-0.04,-0.1,-0.2,-0.36,-0.51,-0.71,-0.99,-1.49,-2.08,-2.98,-4.28,-5.88,-7.78,-10.28,-12.98,-16.98,-20.98,-25.0,-33.0,-40.0,-49.0],
 [-0.02,-0.03,-0.05,-0.07,-0.13,-0.22,-0.31,-0.45,-0.6,-0.8,-1.1,-1.6,-2.24,-3.14,-4.48,-6.1,-8.05,-10.6,-13.5,-17.5,-21.5,-26,-34,-41.3,-50.3],
 [0.02,0.08,0.12,0.09,0.03,-0.02,-0.12,-0.3,-0.45,-0.66,-0.93,-1.41,-1.97,-2.87,-4.08,-5.6,-7.45,-9.95,-12.55,-16.4,-20.4,-24.4,-31.8,-38.8,-47.6],
 [0,0.0,0.02,-0.02,-0.06,-0.11,-0.22,-0.38,-0.53,-0.73,-1.01,-1.51,-2.11,-3.01,-4.31,-5.91,-7.81,-10.31,-13.02,-17.02,-21.02,-25.05,-33.05,-40.05,-49.05]
];
// unstable-side models (zNegCurve)
const businger = [4.36,3.88,3.42,2.98,2.55,2.15,1.74,1.43,1.115,0.844,0.614,0.427,0.282,0.17,0.105,0.063,0.037,0.021,0.012,0.007,0.004];
const holtslag1990 = [4.45,3.96,3.48,3.02,2.59,2.18,1.77,1.45,1.13,0.85,0.62,0.43,0.285,0.172,0.106,0.064,0.037,0.021,0.012,0.007,0.004];
const kaderyaglom = [4.95,4.4,3.86,3.34,2.84,2.35,1.9,1.5,1.15,0.84,0.6,0.41,0.265,0.165,0.1,0.06,0.034,0.02,0.011,0.006,0.0035];
const fairall = [4.75,4.22,3.7,3.2,2.74,2.28,1.86,1.48,1.14,0.84,0.6,0.405,0.262,0.162,0.098,0.058,0.033,0.019,0.011,0.006,0.0034];
const grachev2000B = [4.65,4.14,3.64,3.16,2.7,2.26,1.85,1.47,1.13,0.834,0.592,0.4,0.258,0.16,0.097,0.056,0.032,0.0185,0.0105,0.006,0.0033];
const zBeljaarsNeg = [-6.5,-5.62,-3.16,-1.78,-1,-0.562,-0.316,-0.178,-0.1,-0.0562,-0.0316,-0.0178,-0.01,-0.00562,-0.00316,-0.00178,-0.001];
const beljaarsNeg = [140,92,40,18,7.0,3.0,1.4,0.72,0.34,0.165,0.085,0.045,0.025,0.014,0.008,0.005,0.003];
// stable-side models (zPosCurve)
const grachev2007B = [-0.005,-0.009,-0.016,-0.028,-0.05,-0.088,-0.155,-0.27,-0.47,-0.8,-1.35,-2.4,-4.4,-7.0,-10.4,-14.3,-18.7,-26,-36,-50,-68];
const dyerHicks = [-0.005,-0.0089,-0.0158,-0.0281,-0.05,-0.089,-0.158,-0.281,-0.5,-0.89,-1.58,-2.81,-5,-8.9,-15.8,-28.1,-50,-89,-158,-281,-500];
const lettau = [-0.003,-0.006,-0.01,-0.019,-0.033,-0.058,-0.1,-0.18,-0.33,-0.57,-1.0,-1.7,-2.8,-4.6,-7.6,-12,-19.5,-30,-45,-67,-95];
const holtslagBruin = [-0.0052,-0.0093,-0.0164,-0.029,-0.052,-0.092,-0.163,-0.288,-0.503,-0.89,-1.55,-2.64,-4.38,-6.92,-10.16,-13.7,-17.6,-23.2,-32.8,-50,-80.7];
const beljaarsPos = [-0.005,-0.0089,-0.0158,-0.028,-0.05,-0.089,-0.157,-0.274,-0.487,-0.86,-1.5,-2.57,-4.28,-6.83,-10.2,-14.3,-19.4,-27.3,-41.1,-65.7,-109.5];

// ticks
const xTicks = [-100,-10,-1,-0.1,-0.01,0.001,0.01,0.1,1,10,100];
const xTickLabels = [[['-10','2']],[['-10','1']],[['-10','0']],[['-10','−1']],[['-10','−2']],[['-10','−3'],['/10','−3']],[['10','−2']],[['10','−1']],[['10','0']],[['10','1']],[['10','2']]];
const yTicksA = [0.1,1,10];
const yTickLabelsA = [[['10','−1']],[['10','0']],[['10','1']]];
const yMinorA = [0.2,0.3,0.4,0.5,0.6,0.7,0.8,0.9,2,3,4,5,6,7,8,9,20,30,40];
const yTicksB = [100,10,1,0.1,0,-0.1,-1,-10,-100];
const yTickLabelsB = [[['10','2']],[['10','1']],[['10','0']],[['10','−1']],null,[['-10','−1']],[['-10','0']],[['-10','1']],[['-10','2']]];
const legendA = ['Obs.','Indiv.  folds','Grachev 2000','Grachev 2007'];
const legendLeftB = ['indiv.  fold','mean','dyer-hicks','lettau','holtslag-bruin','beljaars-holtslag','Grachev 2007'];
const legendRightB = ['businger-dyer','holtslag1990','kaderyaglom1990','fairall1996','Grachev 2000','beljaars-holtslag'];

// ---------------- DRAWING ----------------
const svg = d3.select('#chart');
const A = {l:80, r:898.7, t:18, b:407.3};
const B = {l:86.7, r:898.7, t:531, b:912.3};
function makeX(P){
  const m = (P.l+P.r)/2;
  const n = d3.scaleLog().domain([100,0.001]).range([P.l,m]);
  const p = d3.scaleLog().domain([0.001,100]).range([m,P.r]);
  return z => z < 0 ? n(-z) : p(z);
}
const xA = makeX(A), xB = makeX(B);
const yAs = d3.scaleLog().domain([0.1,40.3]).range([A.b,A.t]);
const yA = v => yAs(v > 0 ? v : 1e-30);
const midB = (B.t+B.b)/2;
const yBp = d3.scaleLog().domain([0.01,100]).range([midB,B.t]);
const yBn = d3.scaleLog().domain([0.01,100]).range([midB,B.b]);
const yB = v => v >= 0.01 ? yBp(v) : (v <= -0.01 ? yBn(-v) : midB);

const defs = svg.append('defs');
[['clipA',A],['clipB',B]].forEach(([id,P]) => defs.append('clipPath').attr('id',id).append('rect')
  .attr('x',P.l).attr('y',P.t).attr('width',P.r-P.l).attr('height',P.b-P.t));

const GRID = '#cfcfcf';
function powLabel(g, x, y, anchor, segs, size, supSize){
  const t = g.append('text').attr('x',x).attr('y',y).attr('text-anchor',anchor).attr('class','tk').style('font-size',size+'px');
  let off = 0;
  segs.forEach(([b,e]) => {
    t.append('tspan').attr('dy', -off).text(b); off = 0;
    t.append('tspan').attr('dy', -8).style('font-size', supSize+'px').text(e); off = -8;
  });
  return t;
}

// ---------- panel (a) ----------
const gA = svg.append('g');
xTicks.forEach(z => gA.append('line').attr('x1',xA(z)).attr('x2',xA(z)).attr('y1',A.t).attr('y2',A.b).attr('stroke',GRID).attr('stroke-width',1));
yTicksA.concat(yMinorA).forEach(v => gA.append('line').attr('x1',A.l).attr('x2',A.r).attr('y1',yAs(v)).attr('y2',yAs(v)).attr('stroke',GRID).attr('stroke-width',1));
const cA = gA.append('g').attr('clip-path','url(#clipA)');
cA.append('line').attr('x1',A.l).attr('x2',A.r).attr('y1',yAs(1)).attr('y2',yAs(1)).attr('stroke','#000').attr('stroke-width',1.3);
const xMark = 'M-3.5,-3.5L3.5,3.5M-3.5,3.5L3.5,-3.5';
cA.append('g').selectAll('path').data(obs).join('path')
  .attr('d',xMark).attr('transform',d=>`translate(${xA(d[0])},${yA(d[1])})`)
  .attr('stroke','#FFD700').attr('stroke-width',1.5).attr('fill','none').attr('opacity',0.62);
const lineA = d3.line().x(d=>xA(d[0])).y(d=>yA(d[1]));
const lightA = new Set([8,11,18,19]);
foldsNegA.forEach((f,i) => cA.append('path').attr('d',lineA(d3.zip(binsNeg,f))).attr('fill','none')
  .attr('stroke','#808080').attr('stroke-width',1.7).attr('opacity',lightA.has(i)?0.3:0.55));
foldsPosA.forEach((f,i) => cA.append('path').attr('d',lineA(d3.zip(binsPos,f))).attr('fill','none')
  .attr('stroke','#808080').attr('stroke-width',1.7).attr('opacity',lightA.has(i)?0.3:0.55));
const smoothA = d3.line().x(d=>xA(d[0])).y(d=>yA(d[1])).curve(d3.curveMonotoneX);
cA.append('path').attr('d',smoothA(d3.zip(zNegCurve,grachev2000A))).attr('fill','none').attr('stroke','#ff0000').attr('stroke-width',2);
cA.append('path').attr('d',smoothA(d3.zip(zPosCurve,grachev2007A))).attr('fill','none').attr('stroke','#0000ff').attr('stroke-width',2);
// frame and ticks
gA.append('rect').attr('x',A.l).attr('y',A.t).attr('width',A.r-A.l).attr('height',A.b-A.t).attr('fill','none').attr('stroke','#222').attr('stroke-width',1);
xTicks.forEach((z,i) => {
  gA.append('line').attr('x1',xA(z)).attr('x2',xA(z)).attr('y1',A.b).attr('y2',A.b+3.5).attr('stroke','#222');
  powLabel(gA, xA(z), A.b+23 + (i===5?3:0), 'middle', xTickLabels[i], 20, 14);
});
yTicksA.forEach((v,i) => {
  gA.append('line').attr('x1',A.l-3.5).attr('x2',A.l).attr('y1',yAs(v)).attr('y2',yAs(v)).attr('stroke','#222');
  powLabel(gA, A.l-7, yAs(v)+6.5, 'end', yTickLabelsA[i], 20, 14);
});
yMinorA.forEach(v => gA.append('line').attr('x1',A.l-2).attr('x2',A.l).attr('y1',yAs(v)).attr('y2',yAs(v)).attr('stroke','#222').attr('stroke-width',0.7));
gA.append('text').attr('x',15).attr('y',27).attr('class','tk').style('font-size','22px').text('(a)');
gA.append('text').attr('class','mi').attr('x',(A.l+A.r)/2).attr('y',A.b+54).attr('text-anchor','middle').style('font-size','28px').text('ζ');
const phiLab = gA.append('text').attr('class','mi').attr('transform',`translate(25,${(A.t+A.b)/2}) rotate(-90)`).attr('text-anchor','middle').style('font-size','28px');
phiLab.append('tspan').text('φ'); phiLab.append('tspan').attr('dy',5).style('font-size','19px').text('m');
// legend (a)
const LA = gA.append('g');
LA.append('rect').attr('x',700).attr('y',273).attr('width',188).attr('height',124).attr('rx',3)
  .attr('fill','#fff').attr('fill-opacity',0.8).attr('stroke','#d4d4d4');
const rowA = [289,318,347.7,376.7];
LA.append('path').attr('d',xMark).attr('transform',`translate(728.5,${rowA[0]})`).attr('stroke','#FFD700').attr('stroke-width',1.5).attr('fill','none').attr('opacity',0.65);
LA.append('line').attr('x1',706).attr('x2',750).attr('y1',rowA[1]).attr('y2',rowA[1]).attr('stroke','#808080').attr('stroke-width',1.5).attr('opacity',0.3);
LA.append('line').attr('x1',706).attr('x2',750).attr('y1',rowA[2]).attr('y2',rowA[2]).attr('stroke','#ff0000').attr('stroke-width',2);
LA.append('line').attr('x1',706).attr('x2',750).attr('y1',rowA[3]).attr('y2',rowA[3]).attr('stroke','#0000ff').attr('stroke-width',2);
legendA.forEach((s,i) => LA.append('text').attr('class','lg').attr('x',766).attr('y',rowA[i]+7).style('font-size','19px').style('white-space','pre').text(s));

// ---------- panel (b) ----------
const gB = svg.append('g');
xTicks.forEach(z => gB.append('line').attr('x1',xB(z)).attr('x2',xB(z)).attr('y1',B.t).attr('y2',B.b).attr('stroke',GRID).attr('stroke-width',1));
yTicksB.forEach(v => gB.append('line').attr('x1',B.l).attr('x2',B.r).attr('y1',yB(v)).attr('y2',yB(v)).attr('stroke',GRID).attr('stroke-width',1));
const cB = gB.append('g').attr('clip-path','url(#clipB)');
const lineB = d3.line().x(d=>xB(d[0])).y(d=>yB(d[1]));
foldsNegB.forEach(f => cB.append('path').attr('d',lineB(d3.zip(binsNeg,f))).attr('fill','none').attr('stroke','#808080').attr('stroke-width',1.8).attr('opacity',0.36));
foldsPosB.forEach(f => cB.append('path').attr('d',lineB(d3.zip(binsPos,f))).attr('fill','none').attr('stroke','#808080').attr('stroke-width',1.8).attr('opacity',0.36));
cB.append('line').attr('x1',B.l).attr('x2',B.r).attr('y1',midB).attr('y2',midB).attr('stroke','#000').attr('stroke-width',1.3);
cB.append('path').attr('d',lineB(d3.zip(binsNeg,meanNegB))).attr('fill','none').attr('stroke','#000').attr('stroke-width',2.6).attr('stroke-linejoin','round');
cB.append('path').attr('d',lineB(d3.zip(binsPos,meanPosB))).attr('fill','none').attr('stroke','#000').attr('stroke-width',2.6).attr('stroke-linejoin','round');
const smoothB = d3.line().x(d=>xB(d[0])).y(d=>yB(d[1])).curve(d3.curveMonotoneX);
const DASH = {solid:null, dashdot:'6,2.5,1.5,2.5', dotted:'1.5,2', dashed:'12,9', longdash:'11,2', dashdotdot:'5,2,1.5,2,1.5,2'};
const redCurves = [[businger,'dashdot'],[holtslag1990,'dotted'],[kaderyaglom,'dashed'],[fairall,'longdash'],[grachev2000B,'solid']];
redCurves.forEach(([vals,st]) => cB.append('path').attr('d',smoothB(d3.zip(zNegCurve,vals))).attr('fill','none').attr('stroke','#ff0000').attr('stroke-width',2).attr('stroke-dasharray',DASH[st]));
cB.append('path').attr('d',smoothB(d3.zip(zBeljaarsNeg,beljaarsNeg))).attr('fill','none').attr('stroke','#ff0000').attr('stroke-width',2).attr('stroke-dasharray',DASH.dashdotdot);
const blueCurves = [[dyerHicks,'dashdot'],[lettau,'dotted'],[holtslagBruin,'dashed'],[beljaarsPos,'dashdotdot'],[grachev2007B,'solid']];
blueCurves.forEach(([vals,st]) => cB.append('path').attr('d',smoothB(d3.zip(zPosCurve,vals))).attr('fill','none').attr('stroke','#0000ff').attr('stroke-width',2).attr('stroke-dasharray',DASH[st]));
gB.append('rect').attr('x',B.l).attr('y',B.t).attr('width',B.r-B.l).attr('height',B.b-B.t).attr('fill','none').attr('stroke','#222').attr('stroke-width',1);
xTicks.forEach((z,i) => {
  gB.append('line').attr('x1',xB(z)).attr('x2',xB(z)).attr('y1',B.b).attr('y2',B.b+3.5).attr('stroke','#222');
  powLabel(gB, xB(z), B.b+23 + (i===5?3:0), 'middle', xTickLabels[i], 20, 14);
});
yTicksB.forEach((v,i) => {
  gB.append('line').attr('x1',B.l-3.5).attr('x2',B.l).attr('y1',yB(v)).attr('y2',yB(v)).attr('stroke','#222');
  if (yTickLabelsB[i]) powLabel(gB, B.l-7, yB(v)+5.5, 'end', yTickLabelsB[i], 20, 14);
});
powLabel(gB, B.l-5, midB-8.3, 'end', [['-10','−2']], 20, 14);
powLabel(gB, B.l-8, midB+18.4, 'end', [['10','−2']], 20, 14);
gB.append('text').attr('x',7).attr('y',528).attr('class','tk').style('font-size','22px').text('(b)');
gB.append('text').attr('class','mi').attr('x',(B.l+B.r)/2).attr('y',B.b+54).attr('text-anchor','middle').style('font-size','28px').text('ζ');
const psiLab = gB.append('text').attr('class','mi').attr('transform',`translate(25,${midB-6}) rotate(-90)`).attr('text-anchor','middle').style('font-size','28px');
psiLab.append('tspan').text('ψ'); psiLab.append('tspan').attr('dy',5).style('font-size','19px').text('m');
// legend (b)
const LB = gB.append('g');
const rowB = [553.3,579,603.7,628.3,654,679.3,704];
const leftStyles = [['#808080','solid',2,0.35],['#000','solid',3,1],['#0000ff','dashdot',2,1],['#0000ff','dotted',2,1],['#0000ff','dashed',2,1],['#0000ff','dashdotdot',2,1],['#0000ff','solid',2,1]];
const rightStyles = [['#ff0000','dashdot'],['#ff0000','dotted'],['#ff0000','dashed'],['#ff0000','longdash'],['#ff0000','solid'],['#ff0000','dashdotdot']];
legendLeftB.forEach((s,i) => {
  const [c,st,w,o] = leftStyles[i];
  LB.append('line').attr('x1',510).attr('x2',548).attr('y1',rowB[i]).attr('y2',rowB[i]).attr('stroke',c).attr('stroke-width',w).attr('opacity',o).attr('stroke-dasharray',DASH[st]);
  const t = LB.append('text').attr('class','lg').attr('x',561).attr('y',rowB[i]+6).style('font-size','15.5px').style('white-space','pre');
  if (i < 2) {
    t.append('tspan').attr('class','mi').style('font-size','19px').text('ψ');
    t.append('tspan').attr('class','mi').attr('dy',4).style('font-size','13px').text('m');
    t.append('tspan').attr('dy',-4).text(' ' + s);
  } else t.text(s);
});
legendRightB.forEach((s,i) => {
  const [c,st] = rightStyles[i];
  LB.append('line').attr('x1',710).attr('x2',747).attr('y1',rowB[i]).attr('y2',rowB[i]).attr('stroke',c).attr('stroke-width',2).attr('stroke-dasharray',DASH[st]);
  LB.append('text').attr('class','lg').attr('x',760.3).attr('y',rowB[i]+6).style('font-size','15.5px').text(s);
});
</script>
</body></html>
